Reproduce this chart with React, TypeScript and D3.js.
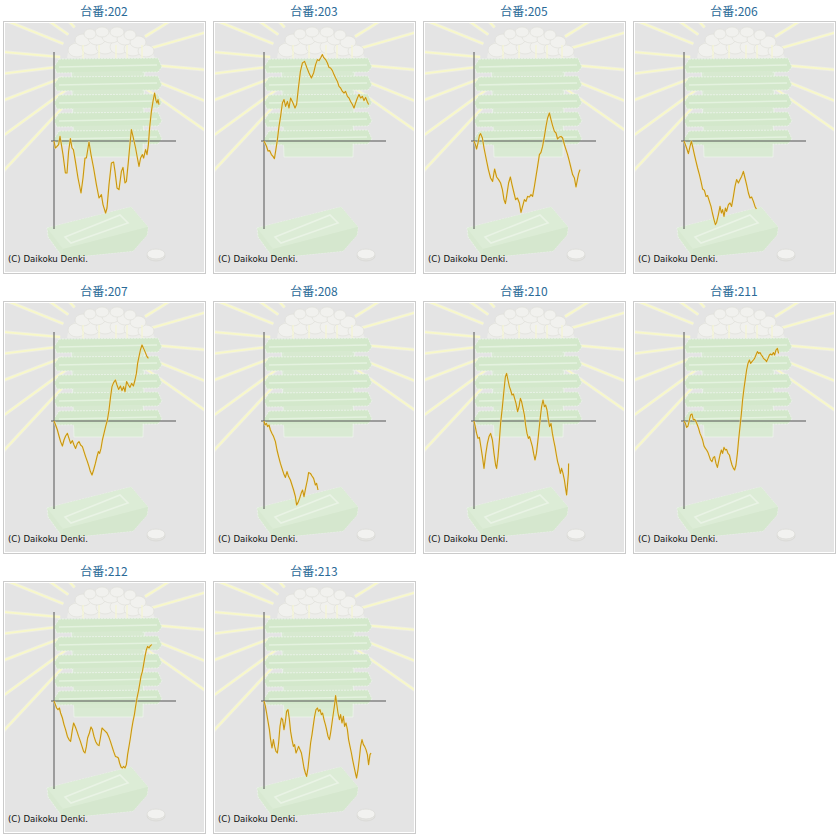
import React from "react";
import * as d3 from "d3";

// ---- data (game count, medal difference) ----
const machines = ["202", "203", "205", "206", "207", "208", "210", "211", "212", "213"];

const s202: [number, number][] = [
  [0, 0], [67, -350], [150, -270], [230, -180], [300, 230], [370, -180], [450, -680], [570, -1600],
  [650, -1600], [730, -520], [820, 120], [900, -350], [970, -430], [1070, -1020], [1200, -1850],
  [1350, -2600], [1450, -1850], [1550, -850], [1620, -850], [1750, -50], [1850, -680], [1980, -1350],
  [2120, -2180], [2250, -2850], [2370, -2680], [2450, -3180], [2580, -3600], [2650, -3350],
  [2750, -2180], [2870, -1100], [2980, -1050], [3050, -1520], [3150, -2350], [3250, -2430],
  [3370, -1520], [3450, -1320], [3550, -2100], [3620, -2020], [3720, -1020], [3780, -350],
  [3870, 570], [3950, 230], [4080, -350], [4170, -850], [4250, -1270], [4330, -850], [4420, -680],
  [4480, -850], [4580, -430], [4650, -680], [4720, -180], [4780, 650], [4870, 1480], [4950, 1980],
  [5030, 2400], [5100, 2020], [5150, 1900], [5200, 2070], [5250, 1820],
];

const s203: [number, number][] = [
  [0, 0], [120, -250], [200, -500], [280, -480], [370, -680], [450, -770], [520, -880], [580, -520],
  [670, 70], [750, 730], [830, 1230], [920, 1900], [1000, 2070], [1080, 1730], [1170, 1980],
  [1250, 1650], [1330, 2150], [1450, 1900], [1550, 1650], [1630, 1820], [1720, 2650], [1820, 3480],
  [1920, 3900], [2030, 3980], [2150, 3650], [2250, 3400], [2370, 3150], [2480, 3400], [2580, 3820],
  [2670, 4070], [2750, 4020], [2830, 4150], [2920, 4320], [2980, 4180], [3080, 4070], [3170, 3900],
  [3250, 3680], [3330, 3650], [3420, 3520], [3500, 3320], [3580, 3150], [3670, 2980], [3750, 2730],
  [3830, 2650], [3920, 2480], [4000, 2400], [4080, 2480], [4170, 2230], [4250, 2150], [4330, 1980],
  [4420, 1820], [4500, 1650], [4580, 1900], [4670, 2150], [4750, 2320], [4830, 2150], [4920, 2230],
  [5000, 2020], [5080, 2180], [5170, 1950], [5230, 1820],
];

const s205: [number, number][] = [
  [0, 0], [70, -180], [130, -400], [200, -100], [270, 270], [330, 370], [420, 150], [500, -350],
  [600, -850], [720, -1430], [830, -1850], [930, -2020], [1030, -1400], [1130, -1800], [1230, -1930],
  [1330, -2100], [1420, -2430], [1500, -2930], [1570, -3130], [1630, -2770], [1730, -2100],
  [1820, -1800], [1900, -2180], [2000, -2600], [2080, -2930], [2170, -2850], [2270, -3100],
  [2350, -3570], [2430, -3270], [2520, -2930], [2600, -3020], [2680, -2770], [2770, -2800],
  [2850, -2680], [2930, -2770], [3020, -2270], [3100, -1770], [3180, -1270], [3270, -680],
  [3350, -570], [3430, -270], [3520, 230], [3600, 730], [3680, 1150], [3770, 1400], [3850, 1070],
  [3930, 770], [4020, 480], [4100, 400], [4180, 100], [4270, 200], [4350, 230], [4430, 150],
  [4520, -180], [4600, -430], [4680, -680], [4770, -1020], [4850, -1350], [4930, -1680],
  [5020, -1850], [5100, -2300], [5170, -1930], [5230, -1630], [5300, -1430],
];

const s206: [number, number][] = [
  [0, 0], [70, -180], [130, -350], [220, -630], [300, -270], [370, -20], [430, -270], [520, -680],
  [600, -1020], [680, -1350], [770, -1680], [850, -2020], [930, -2400], [1020, -2470], [1100, -2770],
  [1180, -2730], [1270, -3020], [1350, -3270], [1420, -3600], [1500, -3930], [1570, -4180],
  [1630, -4070], [1720, -3680], [1800, -3270], [1870, -3600], [1930, -3430], [2000, -3770],
  [2070, -3350], [2130, -3520], [2220, -3180], [2300, -3100], [2380, -3270], [2470, -2770],
  [2550, -2270], [2630, -1930], [2720, -2100], [2800, -1930], [2880, -1770], [2970, -1520],
  [3050, -1850], [3130, -2180], [3220, -2600], [3300, -2850], [3380, -2800], [3470, -3020],
  [3550, -3270], [3620, -3400],
];

const s207: [number, number][] = [
  [0, 0], [80, -200], [170, -450], [250, -750], [330, -1030], [420, -1250], [500, -950], [580, -750],
  [670, -620], [750, -870], [830, -1120], [920, -980], [1000, -1200], [1080, -1370], [1170, -1120],
  [1250, -1030], [1330, -1200], [1420, -1280], [1500, -1530], [1580, -1780], [1670, -2030],
  [1750, -2280], [1820, -2530], [1900, -2700], [1980, -2450], [2070, -2120], [2150, -1780],
  [2220, -1530], [2280, -1620], [2350, -1370], [2420, -950], [2500, -620], [2580, -280], [2670, 50],
  [2750, 550], [2830, 1220], [2900, 1720], [2980, 1920], [3070, 2050], [3150, 1800], [3230, 1580],
  [3320, 1750], [3400, 1520], [3480, 1720], [3550, 1470], [3630, 1970], [3720, 1800], [3800, 1680],
  [3880, 1880], [3970, 1750], [4050, 2050], [4120, 2380], [4180, 2880], [4250, 3220], [4320, 3550],
  [4400, 3800], [4480, 3630], [4570, 3420], [4650, 3220], [4720, 3130],
];

const s208: [number, number][] = [
  [0, 0], [50, -200], [120, -120], [180, -280], [250, -200], [320, -450], [400, -620], [480, -780],
  [570, -1030], [650, -1450], [730, -1780], [820, -2120], [900, -2370], [980, -2620], [1070, -2820],
  [1150, -2530], [1230, -2780], [1320, -2950], [1400, -3200], [1480, -3450], [1570, -3780],
  [1630, -4200], [1700, -4080], [1780, -3870], [1870, -3580], [1930, -3450], [2000, -3780],
  [2080, -3370], [2170, -2950], [2230, -2580], [2320, -2620], [2400, -2750], [2480, -2870],
  [2570, -3200], [2630, -3120], [2700, -3450],
];

const s210: [number, number][] = [
  [0, 0], [70, -320], [130, -620], [200, -870], [270, -820], [330, -1200], [420, -1780], [500, -2370],
  [580, -1700], [670, -1120], [750, -780], [830, -620], [920, -950], [1000, -1620], [1080, -2200],
  [1130, -2370], [1200, -1780], [1270, -950], [1330, -120], [1420, 720], [1500, 1550], [1570, 2220],
  [1630, 2380], [1700, 2050], [1770, 1720], [1830, 1550], [1900, 1300], [1970, 1350], [2030, 1130],
  [2100, 880], [2180, 470], [2250, 720], [2320, 1130], [2380, 970], [2450, 630], [2520, 300],
  [2580, -200], [2650, -620], [2720, -870], [2780, -780], [2850, -1030], [2920, -1280],
  [2980, -1620], [3050, -1950], [3120, -1620], [3180, -1120], [3250, -450], [3320, 220], [3380, 720],
  [3450, 1050], [3520, 720], [3580, 800], [3650, 550], [3720, 50], [3780, -280], [3850, -120],
  [3920, -620], [3980, -950], [4050, -1280], [4120, -1700], [4180, -2030], [4250, -2280],
  [4320, -2620], [4380, -2370], [4450, -2620], [4520, -2950], [4580, -3370], [4630, -3700],
  [4680, -3120], [4720, -2620], [4730, -2120],
];

const s211: [number, number][] = [
  [0, 0], [70, -120], [130, -320], [200, -250], [270, 50], [330, 300], [400, 350], [470, 50], [530, 80],
  [600, -30], [670, -200], [730, -370], [800, -620], [870, -780], [930, -950], [1000, -1250],
  [1070, -1370], [1130, -1450], [1200, -1580], [1270, -1780], [1330, -1950], [1400, -2030],
  [1470, -1820], [1530, -1780], [1600, -2120], [1670, -2320], [1730, -2030], [1800, -1700],
  [1870, -1450], [1930, -1620], [2000, -1320], [2070, -1450], [2130, -1420], [2200, -1620],
  [2270, -1700], [2330, -1950], [2400, -2200], [2470, -2370], [2530, -2450], [2600, -2200],
  [2670, -1620], [2730, -950], [2800, -280], [2870, 380], [2930, 1050], [3000, 1630], [3070, 2130],
  [3130, 2550], [3200, 2880], [3270, 3050], [3330, 2880], [3400, 2970], [3470, 3050], [3530, 3130],
  [3600, 3300], [3670, 3470], [3730, 3380], [3800, 3420], [3870, 3300], [3930, 3220], [3970, 3130],
  [4070, 3050], [4130, 2970], [4200, 3130], [4270, 3300], [4330, 3350], [4400, 3300], [4470, 3420],
  [4530, 3300], [4600, 3550], [4670, 3630], [4730, 3380],
];

const s212: [number, number][] = [
  [0, 0], [70, -180], [130, -350], [200, -430], [270, -350], [330, -600], [420, -850], [500, -1180],
  [580, -1430], [670, -1770], [750, -1930], [830, -2020], [920, -1430], [980, -1100], [1070, -1300],
  [1150, -1520], [1230, -1770], [1320, -2020], [1400, -2270], [1480, -2520], [1550, -2600],
  [1620, -2270], [1680, -1850], [1770, -1600], [1850, -1300], [1920, -1430], [2000, -1770],
  [2080, -2020], [2170, -2180], [2250, -2230], [2320, -1850], [2400, -1350], [2480, -1430],
  [2570, -1520], [2650, -1600], [2730, -1770], [2820, -2020], [2900, -2270], [2980, -2520],
  [3070, -2770], [3150, -2800], [3220, -2850], [3280, -3100], [3350, -3300], [3420, -3350],
  [3480, -3270], [3550, -3350], [3620, -3180], [3680, -2680], [3750, -2270], [3820, -1850],
  [3880, -1430], [3950, -1020], [4020, -680], [4080, -270], [4150, 150], [4220, 480], [4280, 820],
  [4350, 1230], [4420, 1480], [4480, 1820], [4550, 2230], [4620, 2570], [4680, 2730], [4750, 2650],
  [4820, 2770], [4900, 2820],
];

const s213: [number, number][] = [
  [0, 0], [70, -270], [130, -600], [200, -1020], [270, -1430], [330, -1930], [400, -2350], [470, -1930],
  [530, -2270], [600, -2520], [670, -2600], [730, -2100], [800, -1270], [870, -850], [930, -930],
  [1000, -1430], [1070, -1020], [1130, -520], [1200, -430], [1270, -930], [1330, -1520],
  [1400, -1930], [1470, -2270], [1530, -2180], [1600, -2600], [1670, -2430], [1730, -2270],
  [1800, -2430], [1870, -2600], [1930, -2930], [2000, -3350], [2070, -3600], [2130, -3770],
  [2200, -3350], [2270, -2680], [2330, -2100], [2400, -1680], [2470, -1180], [2530, -770],
  [2600, -430], [2670, -350], [2730, -520], [2800, -430], [2870, -680], [2930, -600], [3000, -930],
  [3070, -1180], [3130, -1430], [3200, -1770], [3270, -1930], [3330, -1600], [3400, -1100],
  [3470, -600], [3530, -180], [3580, 270], [3630, -100], [3700, -600], [3770, -930], [3830, -680],
  [3900, -1100], [3970, -770], [4030, -1270], [4100, -1100], [4170, -1430], [4230, -1930],
  [4300, -2270], [4370, -2600], [4430, -2930], [4500, -3270], [4570, -3600], [4630, -3850],
  [4700, -3430], [4770, -2850], [4830, -2270], [4900, -1930], [4970, -2180], [5030, -2270],
  [5100, -2430], [5170, -2680], [5230, -3180], [5300, -2680], [5350, -2600],
];

const seriesList = [s202, s203, s205, s206, s207, s208, s210, s211, s212, s213];

const xDomain: [number, number] = [0, 6100];
const yDomain: [number, number] = [-4400, 4400];

// decorative background (sun rays around a medal box)
const rayAngles = [-175, -158, -145, -133, -119, -105, -70, -58, -32, -16, 5, 22, 35, 133, 144, 159, 173];
const ballSpots: [number, number, number, number][] = [
  [74, 29, 9, 7], [88, 27, 9, 7], [102, 26, 9, 7], [116, 26, 9, 7], [130, 28, 9, 7], [143, 30, 8, 6],
  [80, 19, 8, 6], [94, 17, 9, 7], [108, 16, 9, 6], [122, 18, 8, 6], [135, 21, 8, 6],
  [99, 11, 7, 5], [114, 11, 7, 5], [87, 13, 6, 5], [127, 14, 6, 5],
];
const glints = [80, 96, 113, 124, 139];
const rimTops = [37, 55, 73, 91, 109];

const PW = 202;
const PH = 252;

function Decoration() {
  const cx = 103;
  const cy = 40;
  return (
    <g clipPath="url(#panelClip)">
      {rayAngles.map((a, i) => {
        const r = (a * Math.PI) / 180;
        const x1 = cx + Math.cos(r) * 46;
        const y1 = cy + Math.sin(r) * 46;
        const x2 = cx + Math.cos(r) * 230;
        const y2 = cy + Math.sin(r) * 230;
        return (
          <g key={i}>
            <line x1={x1} y1={y1} x2={x2} y2={y2} stroke="#eeeee4" strokeWidth={3.6} />
            <line x1={x1} y1={y1} x2={x2} y2={y2} stroke="#f8f8c8" strokeWidth={1.8} />
          </g>
        );
      })}
      {/* mound of balls */}
      <path d="M64,37 Q66,14 104,9 Q144,12 152,37 Z" fill="#ededea" />
      {ballSpots.map((b, i) => (
        <ellipse key={i} cx={b[0]} cy={b[1]} rx={b[2]} ry={b[3]} fill="#f1f1ee" stroke="#dfdfda" strokeWidth={0.7} />
      ))}
      {glints.map((g, i) => (
        <line key={i} x1={g} x2={g} y1={24} y2={44} stroke="#f6f6d2" strokeWidth={1.2} />
      ))}
      {/* box body */}
      <polygon points="68,40 142,40 140,136 71,136" fill="#d9ead3" stroke="#eef4ec" strokeWidth={0.8} />
      {rimTops.map((t, i) => (
        <g key={i}>
          <polygon
            points={`56,${t + 1} 155,${t} 159,${t + 9} 155,${t + 14} 54,${t + 15} 51,${t + 9}`}
            fill="#d3e8cb"
            stroke="#eef4ec"
            strokeWidth={0.8}
            strokeDasharray="2 1"
          />
          <polyline points={`56,${t + 9} 154,${t + 7}`} fill="none" stroke="#e4f2df" strokeWidth={1.6} />
          <polygon points={`70,${t + 14} 140,${t + 13} 138,${t + 18} 72,${t + 18}`} fill="#d7e9d0" />
        </g>
      ))}
      {/* bottom tray */}
      <polygon points="44,207 128,186 145,206 144,214 130,230 60,237 45,216" fill="#d8e9d1" stroke="#eef4ec" strokeWidth={0.8} strokeDasharray="2 1" />
      <polygon points="44,207 128,186 145,206 60,228" fill="#dcecd6" />
      <polygon points="62,216 117,194 125,202 68,222" fill="none" stroke="#e9f3e5" strokeWidth={1.6} />
      <polygon points="60,228 145,206 144,214 130,230 60,237" fill="#d5e7ce" />
      {/* coin */}
      <ellipse cx={153} cy={235} rx={9} ry={5} fill="#e4e4e1" stroke="#d8d8d4" strokeWidth={0.8} />
      <ellipse cx={153} cy={233} rx={9} ry={5} fill="#f2f2f0" stroke="#dcdcd8" strokeWidth={0.8} />
    </g>
  );
}

function Panel({ label, data, col, row }: { label: string; data: [number, number][]; col: number; row: number }) {
  const x = d3.scaleLinear().domain(xDomain).range([51, 173]);
  const y = d3.scaleLinear().domain(yDomain).range([208, 32]);
  const line = d3
    .line<[number, number]>()
    .x((d) => x(d[0]))
    .y((d) => y(d[1]));
  const tx = 3 + col * 210;
  const ty = 21 + row * 280;
  return (
    <g transform={`translate(${tx},${ty})`}>
      <text
        x={PW / 2}
        y={-5}
        textAnchor="middle"
        fontFamily="'Noto Sans CJK JP', 'DejaVu Sans', sans-serif"
        fontSize={12}
        fill="#2a6a97"
      >
        {`台番:${label}`}
      </text>
      <rect x={0.5} y={0.5} width={PW} height={PH} fill="#ffffff" stroke="#cbcbcb" />
      <rect x={2} y={2} width={PW - 3} height={PH - 3} fill="#e4e4e4" />
      <Decoration />
      <line x1={x(xDomain[0]) - 3} x2={x(xDomain[1])} y1={y(0)} y2={y(0)} stroke="#555555" strokeWidth={1} />
      <line x1={x(xDomain[0])} x2={x(xDomain[0])} y1={y(yDomain[1]) - 1} y2={y(yDomain[0])} stroke="#555555" strokeWidth={1} />
      <path d={line(data) || ""} fill="none" stroke="#f5e7a8" strokeWidth={2.2} strokeOpacity={0.6} strokeLinejoin="round" />
      <path d={line(data) || ""} fill="none" stroke="#c99510" strokeWidth={1.1} strokeLinejoin="round" />
      <text x={5} y={240.5} fontFamily="'DejaVu Sans', sans-serif" fontSize={8.6} fill="#111">
        (C) Daikoku Denki.
      </text>
    </g>
  );
}

export default function App() {
  return (
    <svg width={840} height={840} style={{ position: "absolute", left: 0, top: 0, background: "#ffffff" }}>
      <defs>
        <clipPath id="panelClip" clipPathUnits="userSpaceOnUse">
          <rect x={2} y={2} width={PW - 3} height={PH - 3} />
        </clipPath>
      </defs>
      {machines.map((m, i) => (
        <Panel key={m} label={m} data={seriesList[i]} col={i % 4} row={Math.floor(i / 4)} />
      ))}
    </svg>
  );
}
